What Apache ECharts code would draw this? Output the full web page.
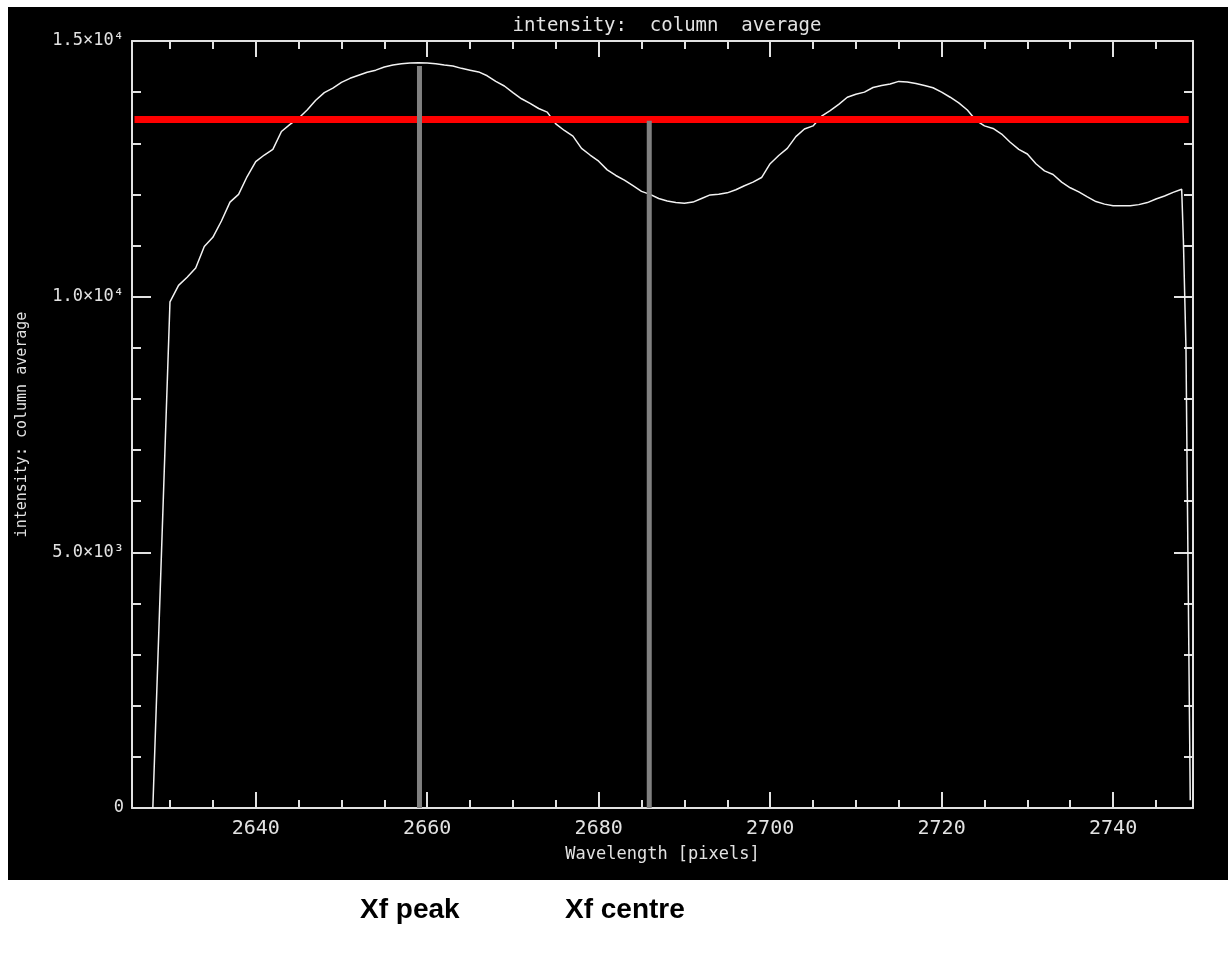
<!DOCTYPE html>
<html>
<head>
<meta charset="utf-8">
<script src="https://cdn.jsdelivr.net/npm/echarts@6/dist/echarts.min.js"></script>
<style>
html,body{margin:0;padding:0;background:#fff;}
#chart{width:1228px;height:953px;}
</style>
</head>
<body>
<div id="chart"></div>
<script>
// ---- data ----
const wavelength = [2628,2630,2631,2632,2633,2634,2635,2636,2637,2638,2639,
  2640,2641,2642,2643,2644,2645,2646,2647,2648,2649,
  2650,2651,2652,2653,2654,2655,2656,2657,2658,2659,
  2660,2661,2662,2663,2664,2665,2666,2667,2668,2669,
  2670,2671,2672,2673,2674,2675,2676,2677,2678,2679,
  2680,2681,2682,2683,2684,2685,2686,2687,2688,2689,
  2690,2691,2692,2693,2694,2695,2696,2697,2698,2699,
  2700,2701,2702,2703,2704,2705,2706,2707,2708,2709,
  2710,2711,2712,2713,2714,2715,2716,2717,2718,2719,
  2720,2721,2722,2723,2724,2725,2726,2727,2728,2729,
  2730,2731,2732,2733,2734,2735,2736,2737,2738,2739,
  2740,2741,2742,2743,2744,2745,2746,2747,2748,2748.2,2748.5,2749];
const intensity = [0,9900,10220,10380,10560,10980,11160,11480,11850,12000,12350,
  12640,12770,12880,13230,13370,13490,13650,13840,13990,14080,
  14190,14270,14330,14390,14430,14490,14530,14555,14570,14575,
  14570,14555,14530,14510,14465,14430,14395,14320,14210,14120,
  13990,13870,13780,13680,13610,13380,13250,13140,12900,12770,
  12650,12480,12370,12280,12170,12060,12000,11920,11870,11840,
  11826,11850,11920,11990,12005,12030,12090,12170,12240,12330,
  12600,12760,12900,13130,13280,13340,13530,13640,13760,13900,
  13960,14000,14090,14130,14160,14210,14200,14170,14130,14085,
  14000,13900,13790,13650,13450,13340,13290,13180,13020,12880,
  12790,12600,12460,12390,12240,12130,12050,11950,11860,11810,
  11780,11780,11780,11800,11840,11910,11970,12040,12100,11100,9000,150];

const threshold = 13466;                 // red horizontal level
const thresholdX = [2625.86, 2748.82];    // red line extent
const peakX = 2659.1,  peakTop = 14510;   // "Xf peak" marker
const centreX = 2685.9, centreTop = 13440; // "Xf centre" marker

const xRange = [2625.57, 2749.32];
const xMajor = [2640, 2660, 2680, 2700, 2720, 2740];
const xMinor = [2630, 2635, 2645, 2650, 2655, 2665, 2670, 2675, 2685, 2690, 2695,
                2705, 2710, 2715, 2725, 2730, 2735, 2745];
const yTickValues = [0, 5000, 10000, 15000];
const yTickLabels = ['0', '5.0×10³', '1.0×10⁴', '1.5×10⁴'];

const titleText = 'intensity:  column  average';
const yName = 'intensity: column average';
const xName = 'Wavelength [pixels]';
const captions = ['Xf peak', 'Xf centre'];

// ---- chart ----
const AX = '#e2e2e2';
const FONT = 'DejaVu Sans Mono';
const chart = echarts.init(document.getElementById('chart'), null, {renderer: 'canvas'});

function xAx(position, ticks, len, showLine, labels) {
  return {
    type: 'value', position: position, min: xRange[0], max: xRange[1],
    axisLine: {show: showLine, onZero: false, lineStyle: {color: AX, width: 2}},
    axisTick: {show: true, inside: true, length: len, customValues: ticks,
               lineStyle: {color: AX, width: 2}},
    axisLabel: labels ? {show: true, customValues: xMajor, color: AX, fontFamily: FONT,
               fontSize: 20, margin: 11, formatter: v => String(Math.round(v))} : {show: false},
    splitLine: {show: false}
  };
}

const lbl = {};
yTickValues.forEach((v, i) => lbl[v] = yTickLabels[i]);

function yAx(position, labels) {
  return {
    type: 'value', position: position, min: 0, max: 15000, interval: 5000,
    axisLine: {show: true, onZero: false, lineStyle: {color: AX, width: 2}},
    axisTick: {show: true, inside: true, length: 19, lineStyle: {color: AX, width: 2}},
    minorTick: {show: true, splitNumber: 5, length: 9, lineStyle: {color: AX, width: 2}},
    axisLabel: labels ? {show: true, color: AX, fontFamily: FONT, fontSize: 17, margin: 8,
               formatter: v => lbl[v]} : {show: false},
    splitLine: {show: false}
  };
}

const xMain = xAx('bottom', xMajor, 16, true, true);
xMain.name = xName;
xMain.nameLocation = 'middle';
xMain.nameGap = 38;
xMain.nameTextStyle = {color: AX, fontFamily: FONT, fontSize: 17};

const yMain = yAx('left', true);
yMain.name = yName;
yMain.nameLocation = 'middle';
yMain.nameGap = 102;
yMain.nameTextStyle = {color: AX, fontFamily: FONT, fontSize: 15};

chart.setOption({
  animation: false,
  backgroundColor: '#ffffff',
  title: {
    text: titleText, left: 662, top: 12, textAlign: 'center',
    textStyle: {color: AX, fontFamily: FONT, fontSize: 19, fontWeight: 'normal'}
  },
  grid: {left: 132, top: 41, width: 1061, height: 767, containLabel: false, outerBoundsMode: 'none'},
  graphic: [
    {type: 'rect', left: 8, top: 7, z: -10, silent: true,
     shape: {width: 1220, height: 873}, style: {fill: '#000000'}},
    {type: 'text', left: 360, top: 896, style: {text: captions[0], fill: '#000',
     font: 'bold 28px "Liberation Sans", Arial, sans-serif'}},
    {type: 'text', left: 565, top: 896, style: {text: captions[1], fill: '#000',
     font: 'bold 28px "Liberation Sans", Arial, sans-serif'}}
  ],
  xAxis: [
    xMain,
    xAx('bottom', xMinor, 8, false, false),
    xAx('top', xMajor, 16, true, false),
    xAx('top', xMinor, 8, false, false)
  ],
  yAxis: [yMain, yAx('right', false)],
  series: [
    {
      type: 'line', xAxisIndex: 0, yAxisIndex: 0, showSymbol: false, z: 2,
      data: wavelength.map((w, i) => [w, intensity[i]]),
      lineStyle: {color: '#f2f2f2', width: 1.5}
    },
    {
      type: 'line', xAxisIndex: 0, yAxisIndex: 0, showSymbol: false, z: 3,
      data: thresholdX.map(x => [x, threshold]),
      lineStyle: {color: '#ff0000', width: 7}
    },
    {
      type: 'line', xAxisIndex: 0, yAxisIndex: 0, showSymbol: false, z: 4,
      data: [[peakX, 0], [peakX, peakTop]],
      lineStyle: {color: '#808080', width: 5, cap: 'butt'}
    },
    {
      type: 'line', xAxisIndex: 0, yAxisIndex: 0, showSymbol: false, z: 4,
      data: [[centreX, 0], [centreX, centreTop]],
      lineStyle: {color: '#808080', width: 5, cap: 'butt'}
    }
  ]
});
</script>
</body>
</html>
